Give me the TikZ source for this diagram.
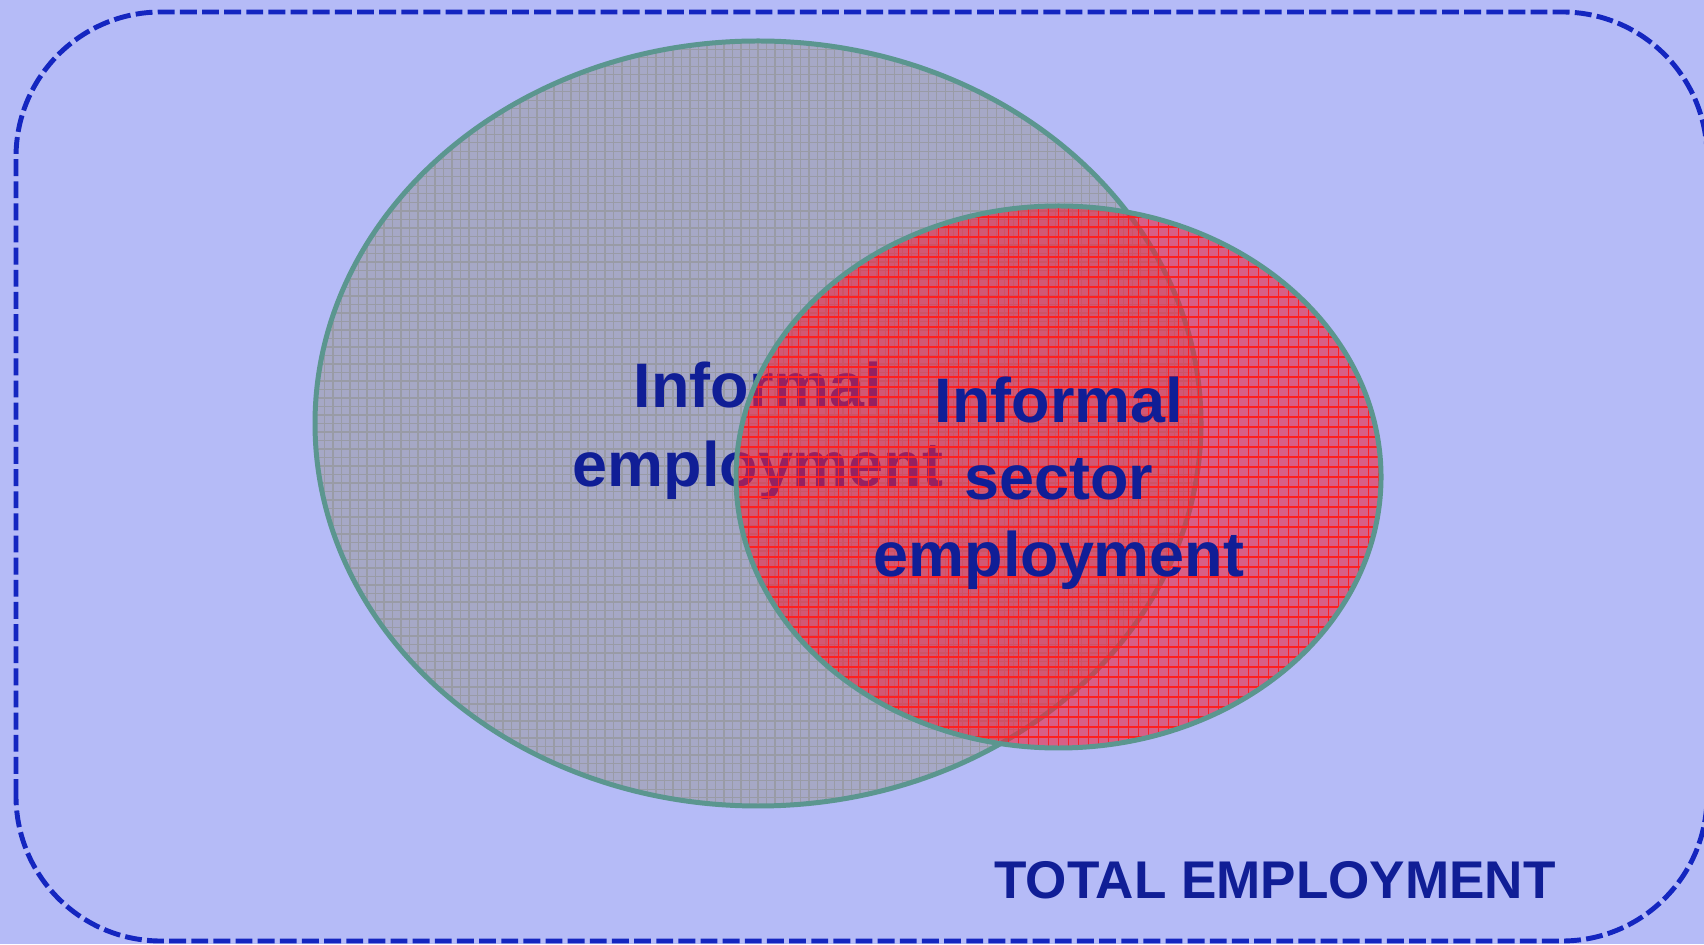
\documentclass[tikz,border=0pt]{standalone}
\usepackage{fontspec}
\setmainfont{Liberation Sans}
\usetikzlibrary{shapes.geometric}

\definecolor{backblue}{HTML}{B5BBF7}
\definecolor{frameblue}{HTML}{1426C0}
\definecolor{inkblue}{HTML}{101E96}
\definecolor{rimteal}{HTML}{5B968F}
\definecolor{setgray}{HTML}{A6A8C6}
\definecolor{gridgray}{HTML}{999BA6}
\definecolor{setred}{RGB}{240,35,60}
\definecolor{gridred}{HTML}{FF2020}

\tikzset{
  setshape/.style={ellipse, inner sep=0pt, outer sep=0pt, draw=rimteal, line width=1.42pt},
  settext/.style={text=inkblue, align=center, font=\bfseries\fontsize{17.9}{22.5}\selectfont},
}

\begin{document}
\begin{tikzpicture}
\useasboundingbox (0,0) rectangle (17.04,9.44);
\clip (0,0) rectangle (17.04,9.44);
\fill[backblue] (0,0) rectangle (17.04,9.44);

%informal employment%
\node[setshape, minimum width=8.86cm, minimum height=7.65cm, fill=setgray,
  path picture={\draw[gridgray, line width=0.3pt, step=0.085]
    (path picture bounding box.south west) grid (path picture bounding box.north east);}]
  (informal) at (7.58,5.205) {};
\node[settext] (informaltext) at (7.58,5.13) {Informal\\employment};

%informal sector employment%
\node[setshape, minimum width=6.45cm, minimum height=5.42cm, fill=setred, fill opacity=0.6,
  path picture={\draw[gridred, line width=0.35pt, step=0.1]
    (path picture bounding box.south west) grid (path picture bounding box.north east);}]
  (sector) at (10.585,4.67) {};
\node[settext, font=\bfseries\fontsize{17.9}{21.9}\selectfont] (sectortext) at (10.59,4.605) {Informal\\sector\\employment};

%total employment%
\node[text=inkblue, anchor=base, font=\bfseries\fontsize{15.1}{18}\selectfont]
  (totaltext) at (12.75,0.46) {TOTAL EMPLOYMENT};
\draw[frameblue, line width=1.4pt, dash pattern=on 4.8pt off 1.5pt, rounded corners=1.45cm]
  (0.16,0.03) rectangle (17.07,9.32);
\end{tikzpicture}
\end{document}
